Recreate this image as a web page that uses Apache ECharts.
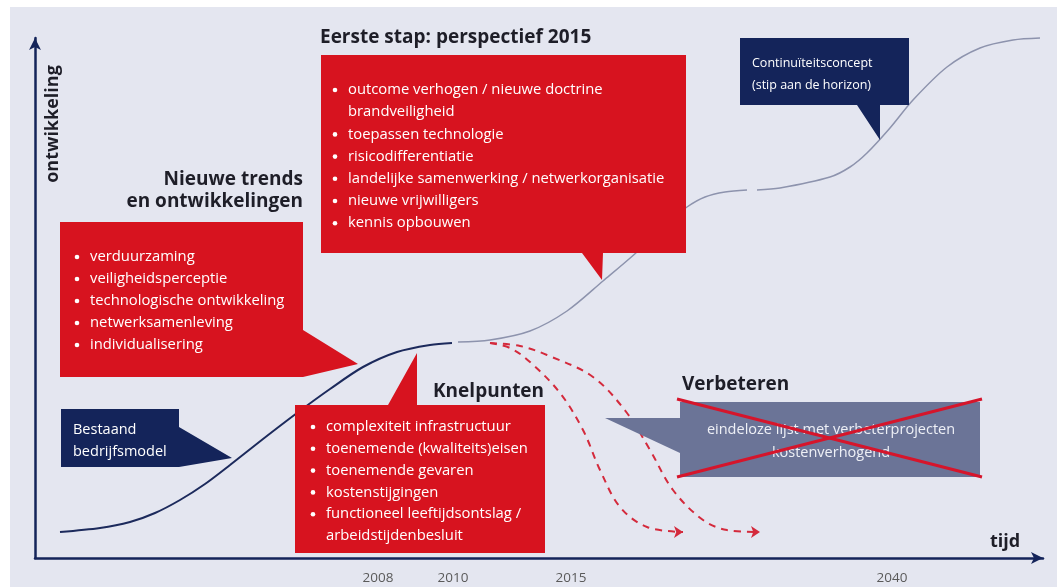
<!DOCTYPE html>
<html>
<head>
<meta charset="utf-8">
<script src="https://cdn.jsdelivr.net/npm/echarts@6/dist/echarts.min.js"></script>
<style>
  html, body { margin: 0; padding: 0; background: #fff; }
  #chart { width: 1057px; height: 587px; }
</style>
</head>
<body>
<div id="chart"></div>
<script>
    // tijd-as: posities (x in as-eenheden) en labels
    var tickPos = [343, 418, 536, 857];
    var tickYears = ['2008', '2010', '2015', '2040'];

    // bestaand bedrijfsmodel (donkere S-curve)
    var curveBestaand = [[25, 26], [65, 30], [95, 36], [120, 45], [145, 58], [170, 74], [195, 93],
        [228, 119], [262, 145], [295, 169], [328, 191], [362, 206], [395, 213], [417, 215]];
    // nieuwe S-curve richting 2040 (null = onderbreking)
    var curveNieuw = [[423, 216], [455, 218], [495, 227], [532, 247], [568, 277], [602, 306], [630, 333],
        [652, 351], [670, 361], [690, 366], [712, 368], null, [722, 368], [745, 370], [795, 381],
        [815, 391], [832, 405], [855, 430], [878, 458], [912, 491], [945, 510], [978, 518], [1005, 520]];
    // verbeteren: twee neergaande stippellijnen
    var dashKort = [[455, 215], [475, 210], [495, 196], [525, 165], [548, 128], [565, 88], [585, 51],
        [612, 31], [648, 26]];
    var dashLang = [[455, 215], [485, 212], [512, 203], [558, 181], [592, 145], [615, 108], [638, 68],
        [668, 38], [692, 28], [725, 26]];

    // teksten in de kaders
    var trends = [['verduurzaming'], ['veiligheidsperceptie'], ['technologische ontwikkeling'],
        ['netwerksamenleving'], ['individualisering']];
    var stap2015 = [['outcome verhogen / nieuwe doctrine', 'brandveiligheid'], ['toepassen technologie'],
        ['risicodifferentiatie'], ['landelijke samenwerking / netwerkorganisatie'],
        ['nieuwe vrijwilligers'], ['kennis opbouwen']];
    var knelpunten = [['complexiteit infrastructuur'], ['toenemende (kwaliteits)eisen'],
        ['toenemende gevaren'], ['kostenstijgingen'], ['functioneel leeftijdsontslag /', 'arbeidstijdenbesluit']];

    var RED = '#d7131f';
    var NAVY = '#14245a';
    var FONT = '"Open Sans", "Noto Sans", sans-serif';

    function bulletList(items, x, y, lineH) {
        var els = [];
        var row = 0;
        items.forEach(function (lines) {
            els.push({
                type: 'circle', z: 101,
                shape: { cx: x + 2, cy: y + row * lineH, r: 2.3 },
                style: { fill: '#fff' }
            });
            lines.forEach(function (t) {
                els.push({
                    type: 'text', z: 101, x: x + 15, y: y + row * lineH,
                    style: { text: t, fill: '#fff', font: '14.8px ' + FONT, textVerticalAlign: 'middle' }
                });
                row++;
            });
        });
        return els;
    }

    function box(points, color) {
        return { type: 'polygon', z: 100, shape: { points: points }, style: { fill: color } };
    }

    function label(text, x, y, opts) {
        opts = opts || {};
        return {
            type: 'text', z: 101, x: x, y: y, rotation: opts.rotation || 0,
            style: {
                text: text, fill: opts.color || '#1e1e28',
                font: (opts.bold ? 'bold ' : '') + (opts.size || 19) + 'px ' + FONT,
                textAlign: opts.align || 'left', textVerticalAlign: 'middle'
            }
        };
    }

    function arrowEnd(data, color) {
        return data.map(function (p, i) {
            if (i < data.length - 1) return { value: p, symbol: 'none' };
            return { value: p, symbol: 'arrow', symbolSize: [9, 9], symbolRotate: -90, itemStyle: { color: color } };
        });
    }

    var graphics = [
        { type: 'rect', z: 100, shape: { x: 0, y: 0, width: 1057, height: 7 }, style: { fill: '#fff' } },
        { type: 'rect', z: 100, shape: { x: 0, y: 0, width: 10, height: 587 }, style: { fill: '#fff' } },

        label('ontwikkeling', 53, 124, { bold: true, size: 18, align: 'center', rotation: Math.PI / 2 }),
        label('tijd', 990, 542, { bold: true, size: 18 }),

        // Nieuwe trends
        label('Nieuwe trends', 303, 180, { bold: true, align: 'right' }),
        label('en ontwikkelingen', 303, 202, { bold: true, align: 'right' }),
        box([[60, 222], [303, 222], [303, 330], [358, 364], [303, 377], [60, 377]], RED),

        // Bestaand bedrijfsmodel
        box([[61, 409], [179, 409], [179, 427], [232, 458], [179, 467], [61, 467]], NAVY),
        label('Bestaand', 73, 430, { size: 14.5, color: '#fff' }),
        label('bedrijfsmodel', 73, 452, { size: 14.5, color: '#fff' }),

        // Eerste stap
        label('Eerste stap: perspectief 2015', 320, 38, { bold: true }),
        box([[321, 55], [686, 55], [686, 253], [603, 253], [602, 280], [582, 253], [321, 253]], RED),

        // Knelpunten
        label('Knelpunten', 433, 392, { bold: true }),
        box([[295, 405], [388, 405], [417, 353], [417, 405], [545, 405], [545, 553], [295, 553]], RED),

        // Continuiteitsconcept
        box([[740, 38], [909, 38], [909, 105], [880, 105], [880, 140], [857, 105], [740, 105]], NAVY),
        label('Continuïteitsconcept', 752, 63, { size: 12.5, color: '#fff' }),
        label('(stip aan de horizon)', 752, 85, { size: 12.5, color: '#fff' }),

        // Verbeteren (doorgestreept)
        label('Verbeteren', 682, 385, { bold: true }),
        box([[680, 402], [980, 402], [980, 477], [680, 477], [680, 453], [605, 418], [680, 418]], '#6b7497'),
        label('eindeloze lijst met verbeterprojecten', 831, 430, { size: 14.5, color: '#eef0f6', align: 'center' }),
        label('kostenverhogend', 831, 453, { size: 14.5, color: '#eef0f6', align: 'center' }),
        { type: 'line', z: 102, shape: { x1: 677, y1: 399, x2: 982, y2: 477 }, style: { stroke: '#d6152b', lineWidth: 3 } },
        { type: 'line', z: 102, shape: { x1: 677, y1: 477, x2: 982, y2: 399 }, style: { stroke: '#d6152b', lineWidth: 3 } }
    ];
    graphics = graphics
        .concat(bulletList(trends, 75, 257, 22))
        .concat(bulletList(stap2015, 333, 90, 22.2))
        .concat(bulletList(knelpunten, 311, 427, 21.8));

    var option = {
        backgroundColor: '#e4e6f0',
        animation: false,
        grid: { left: 35, right: 14, top: 38, bottom: 29 },
        xAxis: {
            type: 'value',
            min: 0,
            max: 1008,
            splitLine: { show: false },
            axisTick: { show: false },
            axisLine: {
                symbol: ['none', 'arrow'],
                symbolSize: [9, 12],
                lineStyle: { color: NAVY, width: 2.5 }
            },
            axisLabel: {
                customValues: tickPos,
                formatter: function (v) {
                    return tickYears[tickPos.indexOf(v)];
                },
                color: '#5a5a5a',
                fontSize: 13.5,
                fontFamily: FONT,
                margin: 13
            }
        },
        yAxis: {
            type: 'value',
            min: 0,
            max: 520,
            splitLine: { show: false },
            axisTick: { show: false },
            axisLabel: { show: false },
            axisLine: {
                show: true,
                symbol: ['none', 'arrow'],
                symbolSize: [9, 12],
                lineStyle: { color: NAVY, width: 2.5 }
            }
        },
        series: [{
            type: 'line',
            data: curveBestaand,
            smooth: 0.3,
            symbol: 'none',
            clip: false,
            lineStyle: { color: '#1c2a5c', width: 2 }
        }, {
            type: 'line',
            data: curveNieuw,
            smooth: 0.3,
            symbol: 'none',
            clip: false,
            connectNulls: false,
            lineStyle: { color: '#8d93ad', width: 1.5 }
        }, {
            type: 'line',
            data: arrowEnd(dashKort, '#d42a3c'),
            smooth: 0.35,
            showSymbol: true,
            showAllSymbol: true,
            clip: false,
            lineStyle: { color: '#d42a3c', width: 2, type: [7, 6] }
        }, {
            type: 'line',
            data: arrowEnd(dashLang, '#d42a3c'),
            smooth: 0.35,
            showSymbol: true,
            showAllSymbol: true,
            clip: false,
            lineStyle: { color: '#d42a3c', width: 2, type: [7, 6] }
        }],
        graphic: graphics
    };

    var myChart = echarts.init(document.getElementById('chart'));
    myChart.setOption(option);
</script>
</body>
</html>
